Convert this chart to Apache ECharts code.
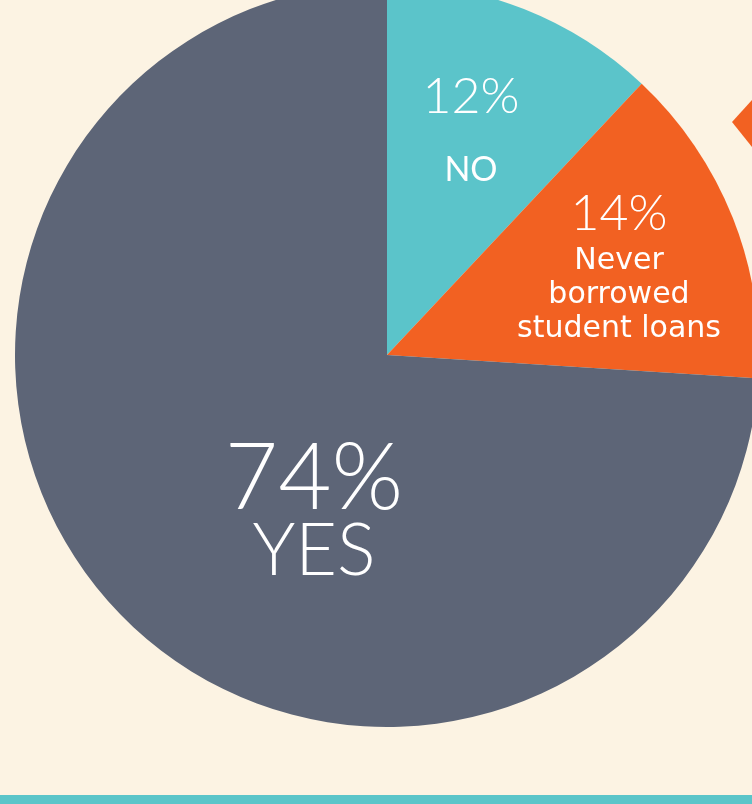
<!DOCTYPE html>
<html>
<head>
<meta charset="utf-8">
<script src="https://cdn.jsdelivr.net/npm/echarts@6/dist/echarts.min.js"></script>
<style>
  html, body { margin: 0; padding: 0; background: #fcf3e3; }
  #chart { width: 752px; height: 804px; }
</style>
</head>
<body>
<div id="chart"></div>
<script>
// answers to the survey question
const answers = ['NO', 'Never\nborrowed\nstudent loans', 'YES']
const shares = [12, 14, 74]
const colors = ['#5bc4ca', '#f26122', '#5d6577']

// where each slice's text block sits
const labelSpots = [[471, 140], [619, 265], [314, 512]]

const chart = echarts.init(document.getElementById('chart'), null, { renderer: 'canvas' })

function labelText(params) {
  const lines = answers[params.dataIndex].split('\n')
  if (params.dataIndex === 0) return '{p|' + params.value + '%}\n{n|' + lines[0] + '}'
  if (params.dataIndex === 2) return '{big|' + params.value + '%}\n{yes|' + lines[0] + '}'
  return '{p|' + params.value + '%}\n' + lines.map(l => '{s|' + l + '}').join('\n')
}

chart.setOption({
  backgroundColor: '#fcf3e3',
  animation: false,
  graphic: [
    {
      type: 'rect',
      shape: { x: 0, y: 795, width: 752, height: 9 },
      style: { fill: '#5bc5c9' },
      silent: true
    },
    {
      type: 'polygon',
      shape: { points: [[752, 100], [732, 122], [752, 147]] },
      style: { fill: '#f26122' },
      silent: true
    }
  ],
  series: [{
    type: 'pie',
    center: [387, 355],
    radius: 372,
    startAngle: 90,
    clockwise: true,
    silent: true,
    itemStyle: { borderWidth: 0 },
    labelLine: { show: false },
    label: {
      show: true,
      position: 'inside',
      formatter: labelText,
      color: '#fff',
      align: 'center',
      rich: {
        p: { fontFamily: 'Lato', fontWeight: 300, fontSize: 50, lineHeight: 60, color: '#fff', align: 'center' },
        n: { fontFamily: 'Lato', fontSize: 34, lineHeight: 86, color: '#fff', align: 'center' },
        s: { fontFamily: 'DejaVu Sans', fontSize: 30, lineHeight: 34, color: '#fff', align: 'center' },
        big: { fontFamily: 'Lato', fontWeight: 300, fontSize: 92, lineHeight: 80, color: '#fff', align: 'center' },
        yes: { fontFamily: 'Lato', fontWeight: 300, fontSize: 72, lineHeight: 66, color: '#fff', align: 'center' }
      }
    },
    labelLayout: function (params) {
      const spot = labelSpots[params.dataIndex]
      return { x: spot[0], y: spot[1], align: 'center', verticalAlign: 'middle' }
    },
    data: answers.map((name, i) => ({
      name: name,
      value: shares[i],
      itemStyle: { color: colors[i] }
    }))
  }]
})
</script>
</body>
</html>
